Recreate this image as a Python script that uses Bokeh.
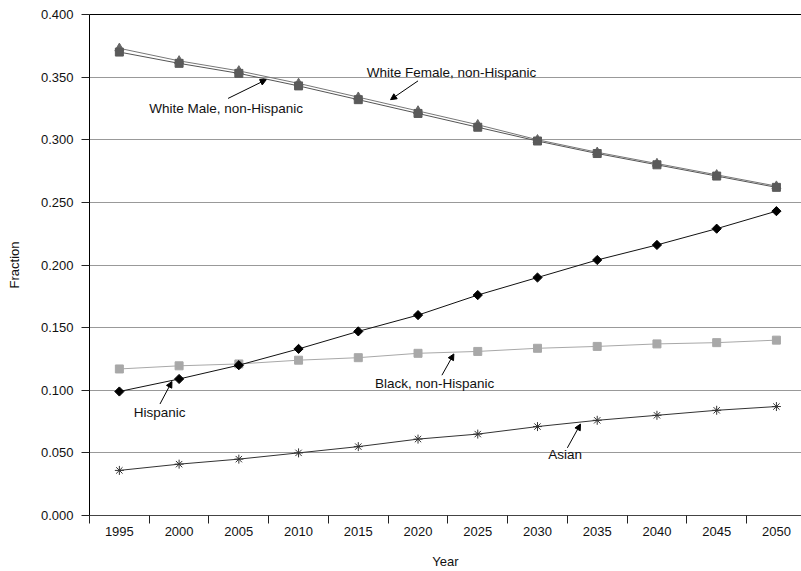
import math
from bokeh.plotting import figure
from bokeh.models import (ColumnDataSource, Range1d, LinearAxis, FixedTicker,
                          Arrow, NormalHead, NumeralTickFormatter)
from bokeh.core.properties import value
from bokeh.embed import file_html
from bokeh.resources import INLINE

years = [1995, 2000, 2005, 2010, 2015, 2020, 2025, 2030, 2035, 2040, 2045, 2050]
white_female = [0.373, 0.363, 0.355, 0.345, 0.334, 0.323, 0.312, 0.300, 0.290, 0.281, 0.272, 0.263]
white_male = [0.370, 0.361, 0.353, 0.343, 0.332, 0.321, 0.310, 0.299, 0.289, 0.280, 0.271, 0.262]
hispanic = [0.099, 0.109, 0.120, 0.133, 0.147, 0.160, 0.176, 0.190, 0.204, 0.216, 0.229, 0.243]
black = [0.117, 0.1195, 0.121, 0.124, 0.126, 0.1295, 0.131, 0.1335, 0.135, 0.137, 0.138, 0.140]
asian = [0.036, 0.041, 0.045, 0.050, 0.055, 0.061, 0.065, 0.071, 0.076, 0.080, 0.084, 0.087]
y_ticks = [0.0, 0.05, 0.10, 0.15, 0.20, 0.25, 0.30, 0.35, 0.40]
year_bounds = [1992.5, 1997.5, 2002.5, 2007.5, 2012.5, 2017.5, 2022.5, 2027.5,
               2032.5, 2037.5, 2042.5, 2047.5]

label_texts = ["White Female, non-Hispanic", "White Male, non-Hispanic", "Hispanic",
               "Black, non-Hispanic", "Asian"]
label_x = [2015.7, 1997.5, 1996.2, 2016.4, 2030.9]
label_y = [0.354, 0.325, 0.082, 0.105, 0.049]
arrow_x0 = [2020.0, 2004.1, 1998.4, 2022.0, 2032.5]
arrow_y0 = [0.347, 0.333, 0.089, 0.112, 0.054]
arrow_x1 = [2017.7, 2007.3, 1999.4, 2023.0, 2033.6]
arrow_y1 = [0.332, 0.348, 0.107, 0.129, 0.073]

FONT = "Liberation Sans"
FS = "13px"

p = figure(width=801, height=571, x_range=Range1d(1992.5, 2052.1), y_range=Range1d(0, 0.4),
           output_backend="svg", toolbar_location=None, min_border_left=89,
           min_border_top=14, min_border_right=0, min_border_bottom=0,
           x_axis_label="Year", y_axis_label="Fraction")
p.outline_line_color = None
p.background_fill_color = "white"
p.border_fill_color = "white"

# axes
xa = p.xaxis[0]
xa.ticker = FixedTicker(ticks=years, minor_ticks=year_bounds)
xa.formatter = NumeralTickFormatter(format="0")
xa.major_tick_line_color = None
xa.minor_tick_line_color = "#222222"
xa.minor_tick_out = 8
xa.minor_tick_in = 0
xa.axis_line_color = "#444444"
xa.major_label_standoff = 3
xa.axis_label_standoff = 15
ya = p.yaxis[0]
ya.ticker = FixedTicker(ticks=y_ticks)
ya.formatter = NumeralTickFormatter(format="0.000")
ya.major_tick_out = 8
ya.major_tick_in = 0
ya.minor_tick_line_color = None
ya.axis_line_color = "black"
ya.major_tick_line_color = "#222222"
ya.major_label_standoff = 8
ya.axis_label_standoff = 16
for ax in (xa, ya):
    ax.major_label_text_font = FONT
    ax.major_label_text_font_size = FS
    ax.major_label_text_font_style = "normal"
    ax.major_label_text_color = "#111111"
    ax.axis_label_text_font = FONT
    ax.axis_label_text_font_size = FS
    ax.axis_label_text_font_style = "normal"
    ax.axis_label_text_color = "#111111"

top = LinearAxis(ticker=FixedTicker(ticks=[]), major_label_text_font_size="0px",
                 major_tick_line_color=None, minor_tick_line_color=None,
                 axis_line_color="black", major_tick_out=0, minor_tick_out=0,
                 major_label_standoff=0)
p.add_layout(top, "above")

p.xgrid.visible = False
p.ygrid.ticker = FixedTicker(ticks=y_ticks[1:])
p.ygrid.grid_line_color = "#999999"

src = ColumnDataSource(dict(year=years, wf=white_female, wm=white_male, hi=hispanic,
                            bl=black, asn=asian))

p.line("year", "bl", source=src, line_color="#a8a8a8", line_width=1)
p.scatter("year", "bl", source=src, marker="square", size=8, fill_color="#a8a8a8",
          line_color="#a8a8a8")
p.line("year", "asn", source=src, line_color="#333333", line_width=1)
p.scatter("year", "asn", source=src, marker="asterisk", size=9, line_color="#333333",
          line_width=1)
p.line("year", "hi", source=src, line_color="#111111", line_width=1)
p.scatter("year", "hi", source=src, marker="square", angle=math.pi / 4, size=6.5,
          fill_color="black", line_color="black")
p.line("year", "wf", source=src, line_color="#777777", line_width=1)
p.scatter("year", "wf", source=src, marker="triangle", size=9, fill_color="#666666",
          line_color="#666666")
p.line("year", "wm", source=src, line_color="#555555", line_width=1)
p.scatter("year", "wm", source=src, marker="square", size=8, fill_color="#5a5a5a",
          line_color="#5a5a5a")

lsrc = ColumnDataSource(dict(x=label_x, y=label_y, t=label_texts))
p.text("x", "y", text="t", source=lsrc, text_font=value(FONT), text_font_size="13.5px",
       text_color="#111111", text_align="left", text_baseline="middle")

for i in range(len(arrow_x0)):
    p.add_layout(Arrow(end=NormalHead(size=6, fill_color="black", line_color="black"),
                       x_start=arrow_x0[i], y_start=arrow_y0[i],
                       x_end=arrow_x1[i], y_end=arrow_y1[i],
                       line_color="black", line_width=1))

open("out.html", "w").write(file_html(p, INLINE))
